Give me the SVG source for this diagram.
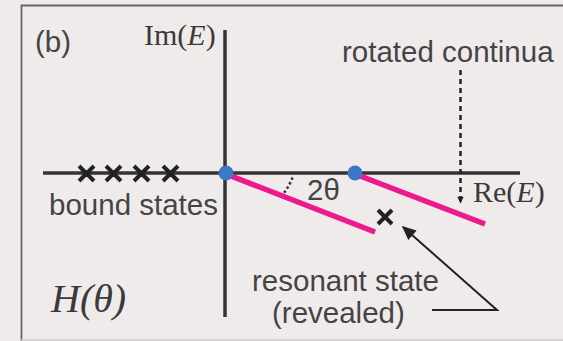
<svg xmlns="http://www.w3.org/2000/svg" width="563" height="341" viewBox="0 0 563 341">
<style>
.sans{font-family:"Liberation Sans",Arial,sans-serif;font-size:29.5px;fill:#444}
.serif{font-family:"Liberation Serif","Times New Roman",serif;fill:#3a3a3a}
.axis{stroke:#333;stroke-width:3.5;fill:none}
.pink{stroke:#ec1a8c;stroke-width:5.5;fill:none}
.dot{fill:#3d78c8}
.cross{stroke:#222;stroke-width:4;fill:none}
</style>
<defs>
<marker id="ah" viewBox="0 0 10 10" refX="9" refY="5" markerWidth="8" markerHeight="7" orient="auto" markerUnits="userSpaceOnUse">
<path d="M0,0.5 L10,5 L0,9.5 z" fill="#222"/>
</marker>
<marker id="ah2" viewBox="0 0 10 10" refX="9" refY="5" markerWidth="16" markerHeight="14" orient="auto" markerUnits="userSpaceOnUse">
<path d="M0,0.5 L10,5 L0,9.5 z" fill="#222"/>
</marker>
</defs>
<rect x="0" y="0" width="563" height="341" fill="#f0ebeb"/>
<path d="M21.5,341 V5.5 H563" stroke="#666" stroke-width="1.8" fill="none"/>
<line x1="21" y1="340" x2="563" y2="340" stroke="#cfcaca" stroke-width="1.5"/>
<g id="axes">
<line class="axis" x1="43" y1="173" x2="520" y2="173"/>
<line class="axis" x1="225" y1="30" x2="225" y2="317"/>
</g>
<g id="continua">
<line class="pink" x1="226" y1="174" x2="375" y2="232"/>
<line class="pink" x1="355" y1="174" x2="485" y2="224"/>
<circle class="dot" cx="226" cy="173" r="7.5"/>
<circle class="dot" cx="355" cy="173" r="7.5"/>
</g>
<g id="bound">
<path class="cross" d="M79,166 L94,181 M94,166 L79,181 M106,166 L121,181 M121,166 L106,181 M134,166 L149,181 M149,166 L134,181 M163,166 L178,181 M178,166 L163,181"/>
<text class="sans" x="49" y="215" font-size="28.5">bound states</text>
</g>
<g id="resonance">
<path class="cross" d="M378,210 L392,224 M392,210 L378,224"/>
</g>
<g id="connectors">
<path d="M292.5,177.5 A66,66 0 0 1 284,193" stroke="#333" stroke-width="2.5" stroke-dasharray="2.5 2.5" fill="none"/>
<line x1="460.5" y1="70" x2="460.5" y2="203" stroke="#222" stroke-width="2.5" stroke-dasharray="5 4" marker-end="url(#ah)"/>
<polyline points="432,310 497,310 403,227" stroke="#222" stroke-width="2" fill="none" marker-end="url(#ah2)"/>
</g>
<g id="labels">
<text class="sans" x="35" y="52">(b)</text>
<text class="serif" x="144" y="45" font-size="30">Im(<tspan font-style="italic">E</tspan>)</text>
<text class="sans" x="342" y="62">rotated continua</text>
<text class="sans" x="307" y="200">2θ</text>
<text class="serif" x="473" y="202" font-size="30">Re(<tspan font-style="italic">E</tspan>)</text>
<text class="sans" x="252" y="291" font-size="28.5">resonant state</text>
<text class="sans" x="272" y="323" font-size="28.5">(revealed)</text>
<text class="serif" x="51" y="312" font-size="40" font-style="italic">H(θ)</text>
</g>
</svg>
